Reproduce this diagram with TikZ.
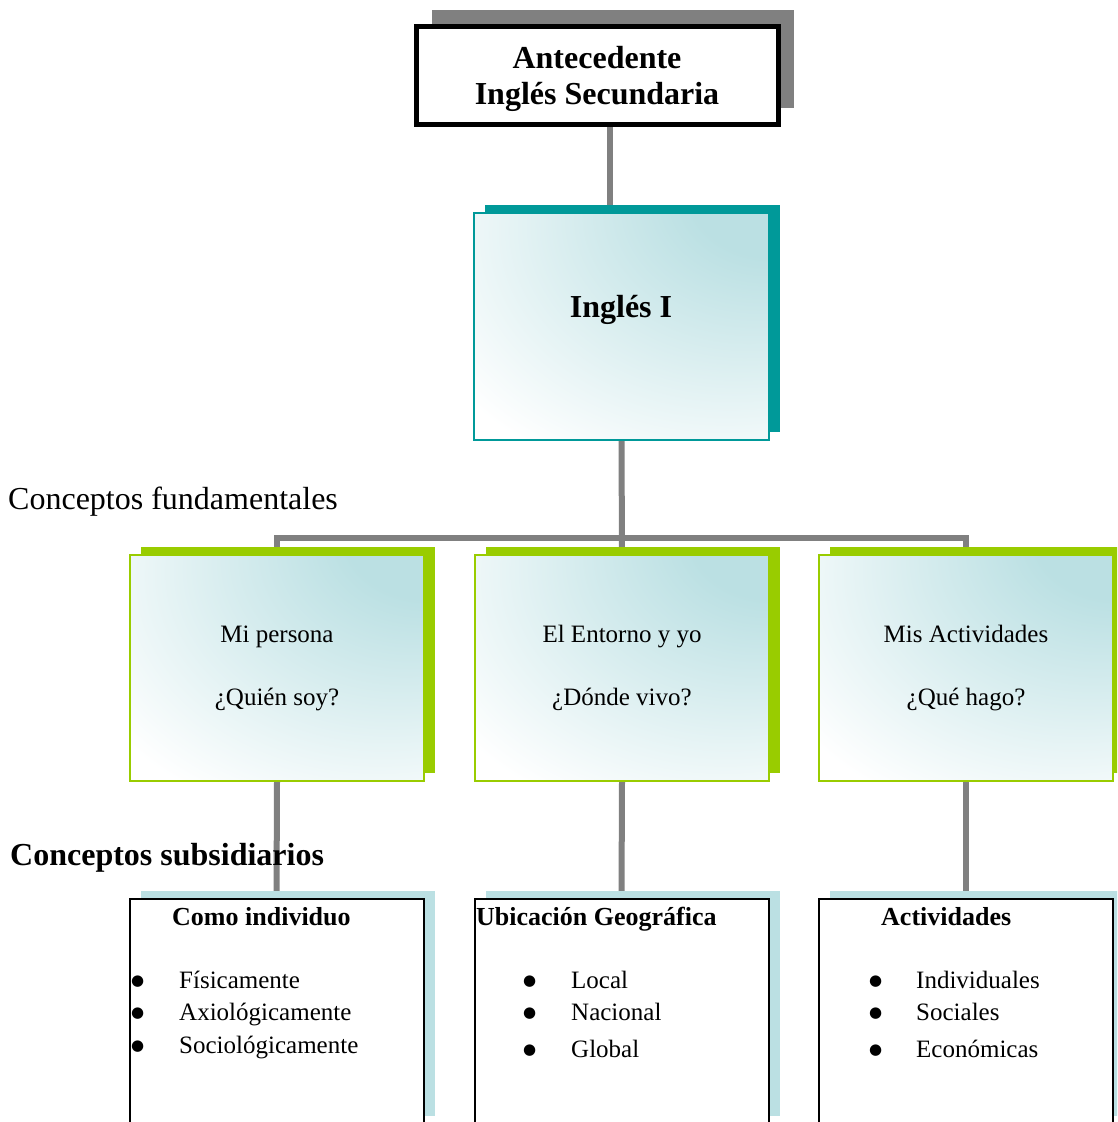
\documentclass[tikz,border=0pt]{standalone}
\usepackage{fontspec}
\setmainfont{Liberation Serif}
\newfontfamily\dotfont{DejaVu Sans}
\usepackage{tikz}
\usetikzlibrary{shadows,backgrounds,positioning}

\definecolor{conngray}{HTML}{808080}
\definecolor{shadowteal}{HTML}{009999}
\definecolor{shadowgreen}{HTML}{99CC00}
\definecolor{paleblue}{HTML}{BBE0E3}

% soft light-blue glow in the upper right corner of a box
\pgfdeclareradialshading{cornerglow}{\pgfpoint{30bp}{34bp}}{%
  color(0bp)=(paleblue); color(14bp)=(paleblue); color(52bp)=(white); color(100bp)=(white)}

\newcommand{\bul}[1]{\makebox[#1][l]{\raisebox{2.5pt}{\dotfont\fontsize{15}{15}\selectfont ●}}}

\begin{document}
\begin{tikzpicture}[x=1pt, y=-1pt,
  conn/.style={draw=conngray, line width=6pt},
  lbl/.style={inner sep=0pt, anchor=base west},
  head/.style={lbl, font=\bfseries\fontsize{26}{30}\selectfont},
  item/.style={lbl, font=\fontsize{25}{30}\selectfont},
  glow/.style={shade, shading=cornerglow},
  topbox/.style={draw=black, line width=5pt, fill=white, minimum width=362pt, minimum height=98pt, inner sep=0pt,
    drop shadow={shadow xshift=15.5pt, shadow yshift=17pt, fill=conngray, opacity=1}},
  ingbox/.style={glow, draw=shadowteal, line width=2pt, minimum width=295pt, minimum height=227pt, inner sep=0pt,
    drop shadow={shadow xshift=10.5pt, shadow yshift=8.5pt, fill=shadowteal, opacity=1}},
  fundbox/.style={glow, draw=shadowgreen, line width=2pt, minimum width=294pt, minimum height=226pt,
    inner sep=0pt, align=center, font=\fontsize{25}{63}\selectfont,
    drop shadow={shadow xshift=11pt, shadow yshift=8.5pt, fill=shadowgreen, opacity=1}},
  subbox/.style={draw=black, line width=2pt, fill=white, minimum width=294pt, minimum height=225pt, inner sep=0pt,
    drop shadow={shadow xshift=11pt, shadow yshift=8pt, fill=paleblue, opacity=1}}]

  \path[use as bounding box, clip] (0,0) rectangle (1117,1122);

  % ── Antecedent and course ─────────────────────────────────────────────
  \node[topbox] (ante) at (597.5,75.5) {};
  \node[inner sep=0pt, anchor=base, align=center, font=\bfseries\fontsize{32}{36}\selectfont] (antetxt)
    at (597,104) {Antecedente\\Inglés Secundaria};
  \node[ingbox] (ing) at (621.5,326.5) {};
  \node[inner sep=0pt, anchor=base, font=\bfseries\fontsize{32}{35}\selectfont] (ingtxt) at (621,317) {Inglés I};

  % ── Fundamental concepts ──────────────────────────────────────────────
  \node[lbl, font=\fontsize{32}{35}\selectfont] (fundlbl) at (8,509) {Conceptos fundamentales};
  \coordinate (bus) at (621,538);

  \node[fundbox] (mip) at (277,668) {Mi persona\\¿Quién soy?};
  \node[fundbox] (ent) at (622,668) {El Entorno y yo\\¿Dónde vivo?};
  \node[fundbox] (act) at (966,668) {Mis Actividades\\¿Qué hago?};

  % ── Subsidiary concepts ───────────────────────────────────────────────
  \node[lbl, font=\bfseries\fontsize{32}{35}\selectfont] (sublbl) at (10,865) {Conceptos subsidiarios};

  \node[subbox] (indiv) at (276.5,1011.5) {};
  \node[subbox] (ubic) at (621.5,1011.5) {};
  \node[subbox] (activ) at (966,1011.5) {};

  % Como individuo
  \node[head] (indivhd) at (172,925) {Como individuo};
  \node[item] (fis) at (131,988) {\bul{48pt}Físicamente};
  \node[item] (axi) at (131,1020) {\bul{48pt}Axiológicamente};
  \node[item] (soc) at (131,1053) {\bul{48pt}Sociológicamente};

  % Ubicacion
  \node[head] (ubichd) at (476,925) {Ubicación Geográfica};
  \node[item] (loc) at (523,988) {\bul{48pt}Local};
  \node[item] (nac) at (523,1020) {\bul{48pt}Nacional};
  \node[item] (glo) at (523,1057) {\bul{48pt}Global};

  % Actividades
  \node[head] (activhd) at (881,925) {Actividades};
  \node[item] (indl) at (869,988) {\bul{47pt}Individuales};
  \node[item] (socl) at (869,1020) {\bul{47pt}Sociales};
  \node[item] (eco) at (869,1057) {\bul{47pt}Económicas};

  % ── Connectors (behind the boxes) ─────────────────────────────────────
  \begin{scope}[on background layer]
    \draw[conn] ([xshift=12pt]ante.south) -- ([xshift=12pt]ante.south |- ing.north);
    \draw[conn] (ing.south) -- (ent.north);
    \draw[conn] (mip.north) -- (mip.north |- bus) -- (act.north |- bus) -- (act.north);
    \draw[conn] (mip.south) -- (indiv.north);
    \draw[conn] (ent.south) -- (ubic.north);
    \draw[conn] (act.south) -- (activ.north);
  \end{scope}

\end{tikzpicture}
\end{document}
